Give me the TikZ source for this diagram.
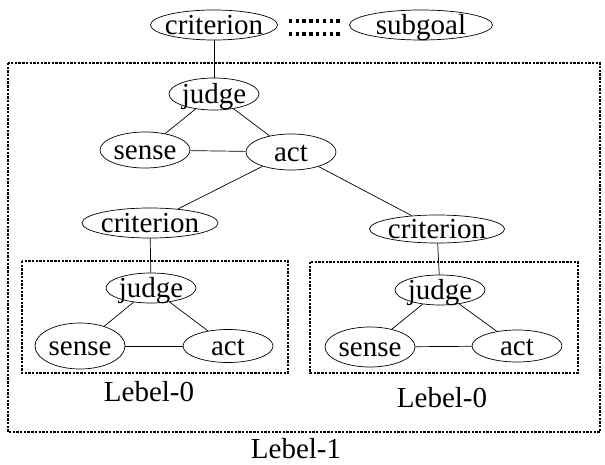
\documentclass[tikz,border=0pt]{standalone}
\usepackage{fontspec}
\setmainfont{Liberation Serif}
\usetikzlibrary{shapes.geometric}
\tikzset{
  blob/.style={draw, ellipse, line width=0.7pt, inner xsep=-6pt, inner ysep=0pt,
    text height=19pt, text depth=0pt, minimum width=90pt, minimum height=32pt},
  levelbox/.style={line width=2.6pt, dash pattern=on 2.4pt off 1.3pt},
  pairdots/.style={line width=3.4pt, dash pattern=on 3.4pt off 3.4pt},
}
\begin{document}
\begin{tikzpicture}[x=1pt, y=-1pt, font=\fontsize{29}{32}\selectfont, line width=0.7pt]
\useasboundingbox (0,0) rectangle (605,465);
\draw[levelbox] (8,63) rectangle (600,432);
\draw[levelbox] (22,261) rectangle (288,373);
\draw[levelbox] (310,262) rectangle (578,373);
\node[blob, minimum width=127pt, minimum height=30pt] (crit) at (214,25) {criterion};
\node[blob, minimum width=143pt, minimum height=30pt] (goal) at (421,25) {subgoal};
\node[blob] (judge) at (214,94) {judge};
\node[blob, minimum height=36pt] (sense) at (145,150) {sense};
\node[blob, minimum height=36pt] (act) at (291,152) {act};
\node[blob, minimum width=136pt, minimum height=30pt] (critL) at (150,223) {criterion};
\node[blob, minimum width=135pt, minimum height=28pt] (critR) at (437,229) {criterion};
\node[blob, minimum height=30pt] (judgeL) at (151,288) {judge};
\node[blob, minimum height=46pt] (senseL) at (80,346) {sense};
\node[blob, minimum height=33pt] (actL) at (228,346) {act};
\node[blob, minimum height=30pt] (judgeR) at (440,290) {judge};
\node[blob, minimum height=40pt] (senseR) at (370,347) {sense};
\node[blob, minimum height=32pt] (actR) at (517,346) {act};
\node (lvlL) at (149,392) {Lebel-0};
\node (lvlR) at (442,398) {Lebel-0};
\node (lvlTop) at (296,449) {Lebel-1};
\draw[pairdots] ([xshift=11pt, yshift=4pt]crit.east) -- ([xshift=-8pt, yshift=4pt]goal.west);
\draw[pairdots] ([xshift=11pt, yshift=-9pt]crit.east) -- ([xshift=-8pt, yshift=-9pt]goal.west);
\draw (crit) -- (judge);
\draw (judge) -- (sense);
\draw (judge) -- (act);
\draw (sense) -- (act);
\draw (act) -- (critL);
\draw (act) -- (critR);
\draw (critL) -- (judgeL);
\draw (judgeL) -- (senseL);
\draw (judgeL) -- (actL);
\draw (senseL) -- (actL);
\draw (critR) -- (judgeR);
\draw (judgeR) -- (senseR);
\draw (judgeR) -- (actR);
\draw (senseR) -- (actR);
\end{tikzpicture}
\end{document}
